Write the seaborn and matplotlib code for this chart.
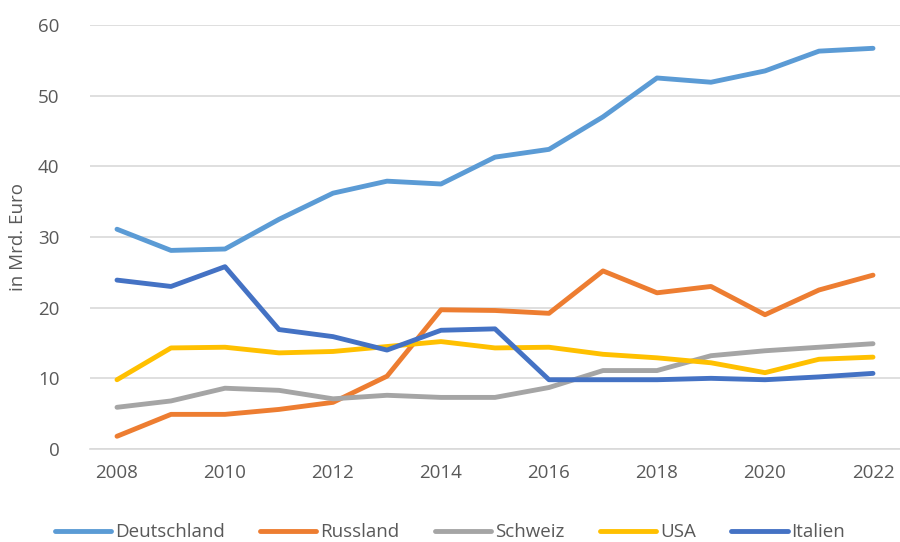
import matplotlib
matplotlib.use('Agg')
import matplotlib.pyplot as plt
import pandas as pd
import seaborn as sns

years = list(range(2008, 2023))
deutschland = [31.1, 28.1, 28.3, 32.5, 36.2, 37.9, 37.5, 41.3, 42.4, 47.0, 52.5, 51.9, 53.5, 56.3, 56.7]
russland = [1.8, 4.9, 4.9, 5.6, 6.6, 10.3, 19.7, 19.6, 19.2, 25.2, 22.1, 23.0, 19.0, 22.5, 24.6]
schweiz = [5.9, 6.8, 8.6, 8.3, 7.1, 7.6, 7.3, 7.3, 8.7, 11.1, 11.1, 13.2, 13.9, 14.4, 14.9]
usa = [9.8, 14.3, 14.4, 13.6, 13.8, 14.5, 15.2, 14.3, 14.4, 13.4, 12.9, 12.2, 10.8, 12.7, 13.0]
italien = [23.9, 23.0, 25.8, 16.9, 15.9, 14.0, 16.8, 17.0, 9.8, 9.8, 9.8, 10.0, 9.8, 10.2, 10.7]

countries = ['Deutschland', 'Russland', 'Schweiz', 'USA', 'Italien']
colors = ['#5B9BD5', '#ED7D31', '#A5A5A5', '#FFC000', '#4472C4']

df = pd.DataFrame({'Jahr': years, 'Deutschland': deutschland, 'Russland': russland,
                   'Schweiz': schweiz, 'USA': usa, 'Italien': italien})
df_long = df.melt(id_vars='Jahr', var_name='Land', value_name='Wert')

sns.set_style('white')
plt.rcParams['font.family'] = ['Open Sans', 'DejaVu Sans']

fig = plt.figure(figsize=(9, 5.42), dpi=100)
ax = fig.add_axes([0.1, 0.1716, 0.9, 0.7823])

sns.lineplot(data=df_long, x='Jahr', y='Wert', hue='Land', hue_order=countries,
             palette=colors, linewidth=3.5, ax=ax, legend=False)

ax.set_xlim(2007.5, 2022.5)
ax.set_ylim(0, 60)
ax.set_xticks(range(2008, 2023, 2))
ax.set_yticks(range(0, 61, 10))
ax.yaxis.grid(True, color='#D9D9D9', linewidth=1.2)
ax.set_axisbelow(True)
for s in ['top', 'right', 'left']:
    ax.spines[s].set_visible(False)
ax.spines['bottom'].set_color('#D9D9D9')
ax.spines['bottom'].set_linewidth(1.2)
ax.tick_params(axis='both', length=0, labelsize=13.5, colors='#595959')
ax.tick_params(axis='x', pad=11)
ax.tick_params(axis='y', pad=22)
ax.set_xlabel('')
ax.set_ylabel('in Mrd. Euro', fontsize=13.5, color='#595959', labelpad=8)

handles = [plt.Line2D([0], [0], color=c, linewidth=3.5, solid_capstyle='round') for c in colors]
fig.legend(handles, countries, loc='lower center', bbox_to_anchor=(0.5, -0.03), ncol=5,
           frameon=False, fontsize=13.5, labelcolor='#595959', handlelength=3.0,
           handletextpad=0.2, columnspacing=1.9)

fig.savefig('out.png', dpi=100)
